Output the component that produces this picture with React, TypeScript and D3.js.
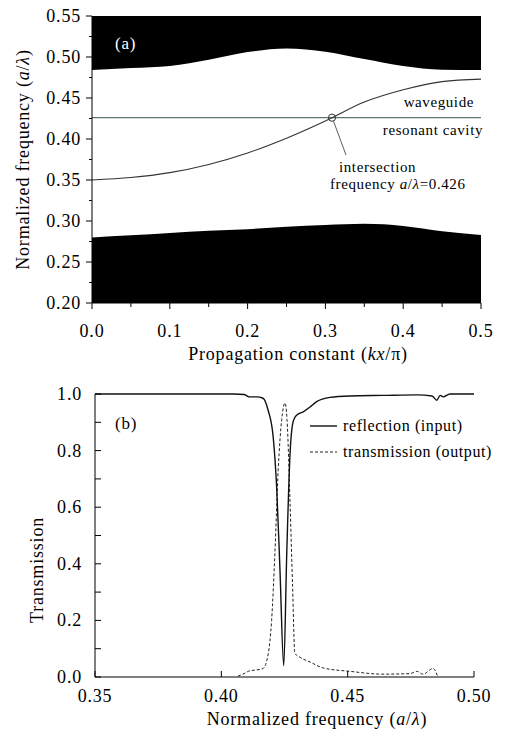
import * as d3 from 'd3';

// panel (a): band diagram
const kx = [0, 0.05, 0.1, 0.15, 0.2, 0.25, 0.3, 0.35, 0.4, 0.45, 0.5];
const upperBand = [0.484, 0.4865, 0.489, 0.4965, 0.506, 0.5105, 0.5065, 0.4975, 0.489, 0.4845, 0.484];
const lowerBand = [0.28, 0.2825, 0.2855, 0.288, 0.29, 0.293, 0.295, 0.2965, 0.294, 0.2875, 0.283];
const waveguide = [0.35, 0.353, 0.359, 0.369, 0.383, 0.401, 0.422, 0.445, 0.46, 0.47, 0.473];
const cavityFreq = 0.426;
const crossKx = 0.3085;
const topXTicks = [0, 0.1, 0.2, 0.3, 0.4, 0.5];
const topYTicks = [0.2, 0.25, 0.3, 0.35, 0.4, 0.45, 0.5, 0.55];

// panel (b): spectra
const reflFreq = [0.35, 0.405, 0.409, 0.411, 0.414, 0.4165, 0.4186, 0.4205, 0.4219, 0.4232, 0.4247, 0.4259, 0.4272, 0.4285, 0.4298, 0.4324, 0.4351, 0.4377, 0.443, 0.451, 0.464, 0.4774, 0.4834, 0.4853, 0.4866, 0.4878, 0.4905, 0.5];
const reflVal = [1.0, 1.0, 0.998, 0.99, 0.99, 0.985, 0.94, 0.85, 0.67, 0.38, 0.04, 0.44, 0.79, 0.905, 0.925, 0.937, 0.954, 0.973, 0.988, 0.993, 0.995, 0.997, 0.993, 0.978, 0.995, 0.99, 1.0, 1.0];
const transFreq = [0.4066, 0.409, 0.4113, 0.414, 0.4165, 0.4186, 0.4199, 0.4212, 0.4225, 0.4239, 0.4252, 0.426, 0.4272, 0.4282, 0.4291, 0.4311, 0.4351, 0.4403, 0.4509, 0.464, 0.4747, 0.4774, 0.4798, 0.4838, 0.4857];
const transVal = [0.003, 0.012, 0.022, 0.025, 0.03, 0.084, 0.2, 0.437, 0.73, 0.91, 0.968, 0.91, 0.614, 0.32, 0.084, 0.07, 0.053, 0.032, 0.02, 0.01, 0.012, 0.02, 0.01, 0.03, 0.0];
const botXTicks = [0.35, 0.4, 0.45, 0.5];
const botYTicks = [0, 0.2, 0.4, 0.6, 0.8, 1.0];

const font = '"Liberation Serif", "Times New Roman", serif';
const lsp = 0.8; // the original typeface is wider than Liberation Serif

const App = () => {
  // scales for (a)
  const xA = d3.scaleLinear().domain([0, 0.5]).range([92, 481]);
  const yA = d3.scaleLinear().domain([0.2, 0.55]).range([303, 16]);
  // scales for (b)
  const xB = d3.scaleLinear().domain([0.35, 0.5]).range([95, 474]);
  const yB = d3.scaleLinear().domain([0, 1]).range([677, 394]);

  const bandsA = kx.map((k, i) => ({ k, up: upperBand[i], lo: lowerBand[i], wg: waveguide[i] }));

  const upperArea = d3.area<any>()
    .x(d => xA(d.k))
    .y0(yA(0.55))
    .y1(d => yA(d.up))
    .curve(d3.curveMonotoneX);
  const lowerArea = d3.area<any>()
    .x(d => xA(d.k))
    .y0(yA(0.2))
    .y1(d => yA(d.lo))
    .curve(d3.curveMonotoneX);
  const wgLine = d3.line<any>()
    .x(d => xA(d.k))
    .y(d => yA(d.wg))
    .curve(d3.curveMonotoneX);

  const refl = reflFreq.map((f, i) => [f, reflVal[i]] as [number, number]);
  const trans = transFreq.map((f, i) => [f, transVal[i]] as [number, number]);
  const specLine = d3.line<[number, number]>()
    .x(d => xB(d[0]))
    .y(d => yB(d[1]))
    .curve(d3.curveMonotoneX);

  const minorXA = d3.range(0, 0.5001, 0.05);
  const minorYA = d3.range(0.2, 0.5501, 0.025);
  const minorYB = d3.range(0, 1.0001, 0.1);

  const cx = xA(crossKx);
  const cy = yA(cavityFreq);

  return (
    <svg width={512} height={734} style={{ position: 'absolute', left: 0, top: 0, background: '#fff' }} fontFamily={font}>
      {/* ---- panel (a) ---- */}
      <path d={upperArea(bandsA) ?? ''} fill="#000" />
      <path d={lowerArea(bandsA) ?? ''} fill="#000" />
      <line x1={xA(0)} x2={xA(0.5)} y1={cy} y2={cy} stroke="#5f7575" strokeWidth={1.3} />
      <path d={wgLine(bandsA) ?? ''} fill="none" stroke="#333" strokeWidth={1.1} />
      <circle cx={cx} cy={cy} r={3.6} fill="none" stroke="#333" strokeWidth={1} />
      <line x1={cx + 1.5} y1={cy + 3.5} x2={346} y2={155} stroke="#333" strokeWidth={0.8} />
      <text x={115} y={49} fill="#fff" fontSize={17} letterSpacing={lsp}>(a)</text>
      <g fontSize={15} letterSpacing={0.6}>
        <text x={474} y={107} textAnchor="end">waveguide</text>
        <text x={483} y={135} textAnchor="end">resonant cavity</text>
        <text x={339} y={172}>intersection</text>
        <text x={330} y={189}>frequency <tspan fontStyle="italic">a</tspan>/<tspan fontStyle="italic">λ</tspan>=0.426</text>
      </g>

      {/* axes (a) */}
      <line x1={xA(0)} x2={xA(0.5)} y1={yA(0.2)} y2={yA(0.2)} stroke="#000" strokeWidth={1} />
      <line x1={xA(0)} x2={xA(0)} y1={yA(0.2)} y2={yA(0.55)} stroke="#000" strokeWidth={1} />
      {minorXA.map((t, i) => (
        <line key={'xa' + i} x1={xA(t)} x2={xA(t)} y1={yA(0.2)} y2={yA(0.2) + (i % 2 === 0 ? 6 : 4)} stroke="#000" />
      ))}
      {minorYA.map((t, i) => (
        <line key={'ya' + i} x1={xA(0)} x2={xA(0) - (i % 2 === 0 ? 6 : 3)} y1={yA(t)} y2={yA(t)} stroke="#000" />
      ))}
      <g fontSize={18} letterSpacing={lsp}>
        {topXTicks.map(t => (
          <text key={'xat' + t} x={xA(t)} y={337} textAnchor="middle">{t.toFixed(1)}</text>
        ))}
        {topYTicks.map(t => (
          <text key={'yat' + t} x={81} y={yA(t) + 6} textAnchor="end">{t.toFixed(2)}</text>
        ))}
        <text x={298} y={360} textAnchor="middle">
          Propagation constant (<tspan fontStyle="italic">kx</tspan>/π)
        </text>
        <text transform={`translate(29, ${yA(0.375)}) rotate(-90)`} textAnchor="middle">
          Normalized frequency (<tspan fontStyle="italic">a</tspan>/<tspan fontStyle="italic">λ</tspan>)
        </text>
      </g>

      {/* ---- panel (b) ---- */}
      <path d={specLine(trans) ?? ''} fill="none" stroke="#222" strokeWidth={1} strokeDasharray="3,2" />
      <path d={specLine(refl) ?? ''} fill="none" stroke="#111" strokeWidth={1.4} />
      <line x1={xB(0.35)} x2={xB(0.5)} y1={yB(0)} y2={yB(0)} stroke="#000" />
      <line x1={xB(0.35)} x2={xB(0.35)} y1={yB(0)} y2={yB(1)} stroke="#000" />
      {minorYB.map((t, i) => (
        <line key={'yb' + i} x1={xB(0.35)} x2={xB(0.35) + 6} y1={yB(t)} y2={yB(t)} stroke="#000" />
      ))}
      {botXTicks.map(t => (
        <line key={'xbt' + t} x1={xB(t)} x2={xB(t)} y1={yB(0)} y2={yB(0) - 6} stroke="#000" />
      ))}
      <g fontSize={18} letterSpacing={lsp}>
        {botXTicks.map(t => (
          <text key={'xbl' + t} x={xB(t)} y={702} textAnchor="middle">{t.toFixed(2)}</text>
        ))}
        {botYTicks.map(t => (
          <text key={'ybl' + t} x={82} y={yB(t) + 6} textAnchor="end">{t.toFixed(1)}</text>
        ))}
        <text x={317} y={725} textAnchor="middle">
          Normalized frequency (<tspan fontStyle="italic">a</tspan>/<tspan fontStyle="italic">λ</tspan>)
        </text>
        <text transform="translate(43, 570) rotate(-90)" textAnchor="middle">Transmission</text>
        <text x={115} y={429} fontSize={17}>(b)</text>
      </g>

      {/* legend */}
      <line x1={310} x2={337} y1={426} y2={426} stroke="#111" strokeWidth={1.4} />
      <line x1={310} x2={337} y1={452} y2={452} stroke="#222" strokeWidth={1} strokeDasharray="3,2" />
      <g fontSize={16} letterSpacing={0.6}>
        <text x={343} y={431}>reflection (input)</text>
        <text x={343} y={457}>transmission (output)</text>
      </g>
    </svg>
  );
};

export default App;
